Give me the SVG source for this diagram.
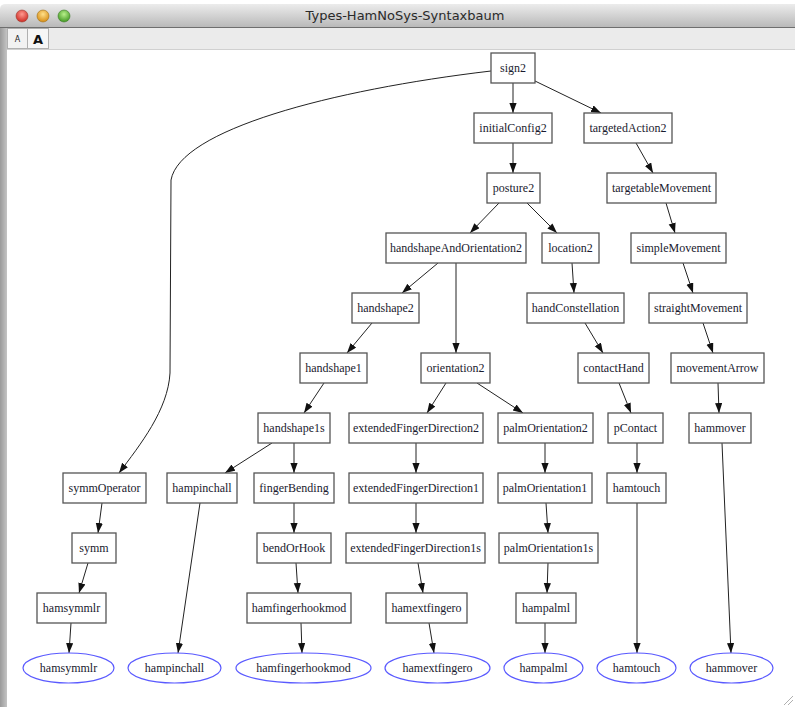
<svg xmlns="http://www.w3.org/2000/svg" width="795" height="707" viewBox="0 0 795 707">
<defs>
<linearGradient id="tb" x1="0" y1="0" x2="0" y2="1">
<stop offset="0" stop-color="#ececec"/>
<stop offset="1" stop-color="#b9b9b9"/>
</linearGradient>
<linearGradient id="lb" x1="0" y1="0" x2="1" y2="0">
<stop offset="0" stop-color="#9a9a9a"/>
<stop offset="1" stop-color="#c4c4c4"/>
</linearGradient>
<radialGradient id="red" cx="0.5" cy="0.35" r="0.6"><stop offset="0" stop-color="#ff9a90"/><stop offset="1" stop-color="#d0322a"/></radialGradient>
<radialGradient id="orange" cx="0.5" cy="0.35" r="0.6"><stop offset="0" stop-color="#ffe08a"/><stop offset="1" stop-color="#d9921c"/></radialGradient>
<radialGradient id="green" cx="0.5" cy="0.35" r="0.6"><stop offset="0" stop-color="#b8f08a"/><stop offset="1" stop-color="#4a9e2a"/></radialGradient>
<marker id="arr" markerUnits="userSpaceOnUse" markerWidth="12" markerHeight="10" refX="10" refY="3.6" orient="auto">
<path d="M0,0 L10,3.6 L0,7.2 Z" fill="#111"/>
</marker>
<style>
.box{fill:#fff;stroke:#555;stroke-width:1.3}
.ell{fill:#fff;stroke:#5a5aff;stroke-width:1.2}
.lbl{font-family:"Liberation Serif","Times New Roman",serif;font-size:12px;fill:#1a1a2e;text-anchor:middle}
.e{fill:none;stroke:#222;stroke-width:1;marker-end:url(#arr)}
</style>
</defs>
<rect x="0" y="0" width="795" height="707" fill="#fff"/>
<!-- window chrome -->
<g id="chrome">
<path d="M0,9 Q0,4 6,4 L795,4 L795,27 L0,27 Z" fill="url(#tb)"/>
<line x1="0" y1="27.5" x2="795" y2="27.5" stroke="#6e6e6e" stroke-width="1"/>
<rect x="0" y="28" width="795" height="21" fill="#ebebeb"/>
<line x1="0" y1="49.5" x2="795" y2="49.5" stroke="#d0d0d0" stroke-width="1"/>
<rect x="0" y="28" width="7" height="679" fill="url(#lb)"/>
<circle cx="22" cy="16" r="6" fill="url(#red)" stroke="#9a3a30" stroke-width="0.6"/>
<circle cx="43" cy="16" r="6" fill="url(#orange)" stroke="#a0701a" stroke-width="0.6"/>
<circle cx="64" cy="16" r="6" fill="url(#green)" stroke="#3e7a2a" stroke-width="0.6"/>
<text x="405" y="20" font-family="'DejaVu Sans','Liberation Sans',sans-serif" font-size="13" fill="#2a2a2a" text-anchor="middle">Types-HamNoSys-Syntaxbaum</text>
<rect x="7.5" y="28.5" width="20" height="20" fill="#f2f2f2" stroke="#b0b0b0"/>
<rect x="27.5" y="28.5" width="21" height="20" fill="#f6f6f6" stroke="#b0b0b0"/>
<text x="17.5" y="42" font-family="'DejaVu Sans',sans-serif" font-size="8" fill="#222" text-anchor="middle">A</text>
<text x="38" y="44" font-family="'DejaVu Sans',sans-serif" font-size="13" font-weight="bold" fill="#111" text-anchor="middle">A</text>
<path d="M784,705 L793,696 M788,705 L793,700" stroke="#b0b0b0" stroke-width="1"/>
</g>
<!-- connectors -->
<g id="edges">
<path class="e" d="M491,71 C330,90 180,130 171,180 L170,373 C168,410 140,445 119,473"/>
<path class="e" d="M513,83 L513,113"/>
<path class="e" d="M535,81 L601,113"/>
<path class="e" d="M513,143 L513,173"/>
<path class="e" d="M636,143 L653,173"/>
<path class="e" d="M499,203 L470,233"/>
<path class="e" d="M527,203 L557,233"/>
<path class="e" d="M666,203 L675,233"/>
<path class="e" d="M438,263 L402,293"/>
<path class="e" d="M456,263 L456,353"/>
<path class="e" d="M572,263 L574,293"/>
<path class="e" d="M683,263 L693,293"/>
<path class="e" d="M372,323 L347,353"/>
<path class="e" d="M585,323 L603,353"/>
<path class="e" d="M703,323 L713,353"/>
<path class="e" d="M324,383 L304,413"/>
<path class="e" d="M446,383 L427,413"/>
<path class="e" d="M477,383 L523,413"/>
<path class="e" d="M619,383 L631,413"/>
<path class="e" d="M718,383 L719,413"/>
<path class="e" d="M272,443 L225,473"/>
<path class="e" d="M294,443 L294,473"/>
<path class="e" d="M416,443 L416,473"/>
<path class="e" d="M545,443 L545,473"/>
<path class="e" d="M637,443 L637,473"/>
<path class="e" d="M722,443 L731,653"/>
<path class="e" d="M102,503 L98,533"/>
<path class="e" d="M200,503 L178,653"/>
<path class="e" d="M294,503 L294,533"/>
<path class="e" d="M416,503 L416,533"/>
<path class="e" d="M546,503 L548,533"/>
<path class="e" d="M637,503 L637,653"/>
<path class="e" d="M88,563 L79,593"/>
<path class="e" d="M296,563 L298,593"/>
<path class="e" d="M418,563 L423,593"/>
<path class="e" d="M548,563 L547,593"/>
<path class="e" d="M71,623 L69,653"/>
<path class="e" d="M301,623 L302,653"/>
<path class="e" d="M429,623 L434,653"/>
<path class="e" d="M545,623 L545,653"/>
</g>
<!-- nodes -->
<g id="n-sign2"><rect class="box" x="491" y="53" width="44" height="30"/><text class="lbl" x="513" y="72">sign2</text></g>
<g id="n-initialConfig2"><rect class="box" x="474" y="113" width="78" height="30"/><text class="lbl" x="513" y="132">initialConfig2</text></g>
<g id="n-targetedAction2"><rect class="box" x="584" y="113" width="88" height="30"/><text class="lbl" x="628" y="132">targetedAction2</text></g>
<g id="n-posture2"><rect class="box" x="487" y="173" width="53" height="30"/><text class="lbl" x="513.5" y="192">posture2</text></g>
<g id="n-targetableMovement"><rect class="box" x="607" y="173" width="109" height="30"/><text class="lbl" x="661.5" y="192">targetableMovement</text></g>
<g id="n-handshapeAndOrientation2"><rect class="box" x="386" y="233" width="140" height="30"/><text class="lbl" x="456" y="252">handshapeAndOrientation2</text></g>
<g id="n-location2"><rect class="box" x="542" y="233" width="57" height="30"/><text class="lbl" x="570.5" y="252">location2</text></g>
<g id="n-simpleMovement"><rect class="box" x="631" y="233" width="95" height="30"/><text class="lbl" x="678.5" y="252">simpleMovement</text></g>
<g id="n-handshape2"><rect class="box" x="352" y="293" width="67" height="30"/><text class="lbl" x="385.5" y="312">handshape2</text></g>
<g id="n-handConstellation"><rect class="box" x="527" y="293" width="97" height="30"/><text class="lbl" x="575.5" y="312">handConstellation</text></g>
<g id="n-straightMovement"><rect class="box" x="649" y="293" width="98" height="30"/><text class="lbl" x="698" y="312">straightMovement</text></g>
<g id="n-handshape1"><rect class="box" x="300" y="353" width="67" height="30"/><text class="lbl" x="333.5" y="372">handshape1</text></g>
<g id="n-orientation2"><rect class="box" x="421" y="353" width="69" height="30"/><text class="lbl" x="455.5" y="372">orientation2</text></g>
<g id="n-contactHand"><rect class="box" x="578" y="353" width="71" height="30"/><text class="lbl" x="613.5" y="372">contactHand</text></g>
<g id="n-movementArrow"><rect class="box" x="671" y="353" width="93" height="30"/><text class="lbl" x="717.5" y="372">movementArrow</text></g>
<g id="n-handshape1s"><rect class="box" x="258" y="413" width="72" height="30"/><text class="lbl" x="294" y="432">handshape1s</text></g>
<g id="n-extendedFingerDirection2"><rect class="box" x="349" y="413" width="134" height="30"/><text class="lbl" x="416" y="432">extendedFingerDirection2</text></g>
<g id="n-palmOrientation2"><rect class="box" x="498" y="413" width="95" height="30"/><text class="lbl" x="545.5" y="432">palmOrientation2</text></g>
<g id="n-pContact"><rect class="box" x="608" y="413" width="55" height="30"/><text class="lbl" x="635.5" y="432">pContact</text></g>
<g id="n-hammover"><rect class="box" x="689" y="413" width="62" height="30"/><text class="lbl" x="720" y="432">hammover</text></g>
<g id="n-symmOperator"><rect class="box" x="63" y="473" width="83" height="30"/><text class="lbl" x="104.5" y="492">symmOperator</text></g>
<g id="n-hampinchall"><rect class="box" x="167" y="473" width="70" height="30"/><text class="lbl" x="202" y="492">hampinchall</text></g>
<g id="n-fingerBending"><rect class="box" x="254" y="473" width="80" height="30"/><text class="lbl" x="294" y="492">fingerBending</text></g>
<g id="n-extendedFingerDirection1"><rect class="box" x="349" y="473" width="134" height="30"/><text class="lbl" x="416" y="492">extendedFingerDirection1</text></g>
<g id="n-palmOrientation1"><rect class="box" x="498" y="473" width="94" height="30"/><text class="lbl" x="545" y="492">palmOrientation1</text></g>
<g id="n-hamtouch"><rect class="box" x="607" y="473" width="59" height="30"/><text class="lbl" x="636.5" y="492">hamtouch</text></g>
<g id="n-symm"><rect class="box" x="72" y="533" width="44" height="30"/><text class="lbl" x="94" y="552">symm</text></g>
<g id="n-bendOrHook"><rect class="box" x="257" y="533" width="74" height="30"/><text class="lbl" x="294" y="552">bendOrHook</text></g>
<g id="n-extendedFingerDirection1s"><rect class="box" x="346" y="533" width="139" height="30"/><text class="lbl" x="415.5" y="552">extendedFingerDirection1s</text></g>
<g id="n-palmOrientation1s"><rect class="box" x="499" y="533" width="99" height="30"/><text class="lbl" x="548.5" y="552">palmOrientation1s</text></g>
<g id="n-hamsymmlr"><rect class="box" x="37" y="593" width="69" height="30"/><text class="lbl" x="71.5" y="612">hamsymmlr</text></g>
<g id="n-hamfingerhookmod"><rect class="box" x="247" y="593" width="104" height="30"/><text class="lbl" x="299" y="612">hamfingerhookmod</text></g>
<g id="n-hamextfingero"><rect class="box" x="386" y="593" width="81" height="30"/><text class="lbl" x="426.5" y="612">hamextfingero</text></g>
<g id="n-hampalml"><rect class="box" x="516" y="593" width="60" height="30"/><text class="lbl" x="546" y="612">hampalml</text></g>
<g id="t-hamsymmlr"><ellipse class="ell" cx="68.5" cy="668" rx="45.5" ry="15"/><text class="lbl" x="68.5" y="672">hamsymmlr</text></g>
<g id="t-hampinchall"><ellipse class="ell" cx="174.5" cy="668" rx="46.5" ry="15"/><text class="lbl" x="174.5" y="672">hampinchall</text></g>
<g id="t-hamfingerhookmod"><ellipse class="ell" cx="303.5" cy="668" rx="67.5" ry="15"/><text class="lbl" x="303.5" y="672">hamfingerhookmod</text></g>
<g id="t-hamextfingero"><ellipse class="ell" cx="437.5" cy="668" rx="52.5" ry="15"/><text class="lbl" x="437.5" y="672">hamextfingero</text></g>
<g id="t-hampalml"><ellipse class="ell" cx="543.5" cy="668" rx="39.5" ry="15"/><text class="lbl" x="543.5" y="672">hampalml</text></g>
<g id="t-hamtouch"><ellipse class="ell" cx="636.5" cy="668" rx="39.5" ry="15"/><text class="lbl" x="636.5" y="672">hamtouch</text></g>
<g id="t-hammover"><ellipse class="ell" cx="731.5" cy="668" rx="41.5" ry="15"/><text class="lbl" x="731.5" y="672">hammover</text></g>
</svg>
